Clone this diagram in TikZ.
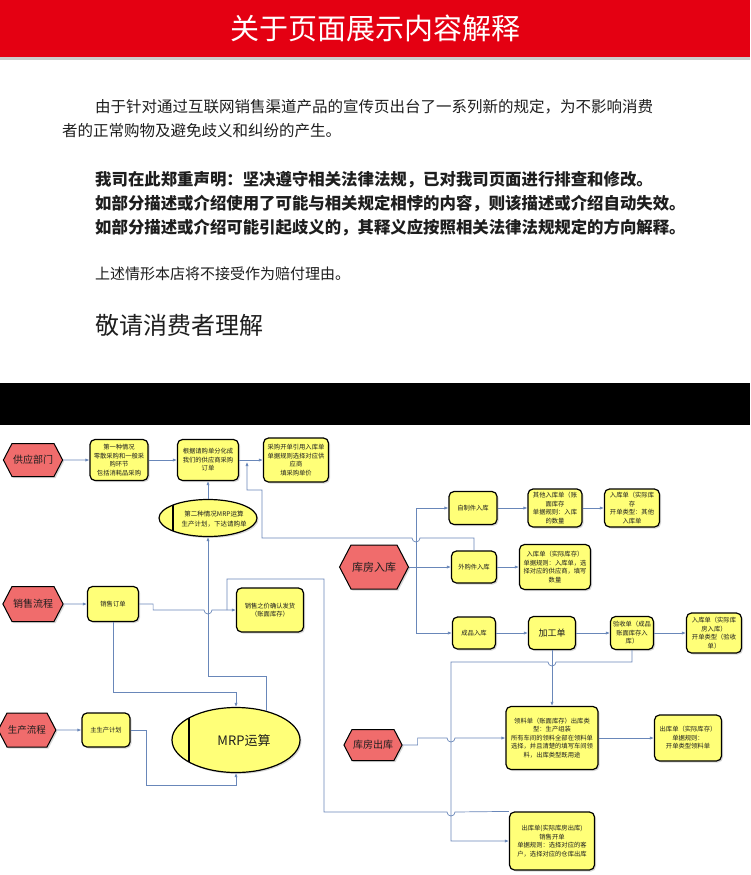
\documentclass[tikz,border=0pt]{standalone}
\usepackage{fontspec}
\setmainfont{Noto Sans CJK SC}
\usepackage{xcolor}
\usepackage{tikz}
\usetikzlibrary{arrows.meta,shapes.geometric,shapes.symbols,shadows,positioning,calc}

\definecolor{bannerred}{RGB}{228,0,18}
\definecolor{hexred}{RGB}{240,108,108}
\definecolor{boxyellow}{RGB}{255,255,120}
\definecolor{linkblue}{RGB}{105,135,185}
\definecolor{txtgrey}{RGB}{30,30,30}

\begin{document}
\begin{tikzpicture}[x=1pt,y=-1pt,
		conn/.style={draw=linkblue, line width=0.7pt},
		arr/.style={conn, -{Latex[length=4pt,width=3.2pt]}},
		ybox/.style={draw=black, line width=1.2pt, rounded corners=5pt, fill=boxyellow, align=center, inner sep=1pt,
			text=txtgrey, font=\fontsize{6.3}{8.5}\selectfont,
			drop shadow={shadow xshift=1.5pt, shadow yshift=-1.5pt, opacity=0.3}},
		hexa/.style={shape=signal, signal to=west and east, signal pointer angle=125, draw=black, line width=1pt,
			fill=hexred, inner sep=1pt, text=txtgrey, font=\fontsize{10}{12}\selectfont,
			drop shadow={shadow xshift=1.5pt, shadow yshift=-1.5pt, opacity=0.3}},
		oval/.style={ellipse, draw=black, line width=1.2pt, fill=boxyellow, inner sep=0pt,
			drop shadow={shadow xshift=1.5pt, shadow yshift=-1.5pt, opacity=0.3}},
		line1/.style={anchor=west, inner sep=0pt, text=txtgrey, font=\fontsize{15.5}{18}\selectfont},
		line2/.style={anchor=west, inner sep=0pt, text=txtgrey, font=\bfseries\fontsize{16.4}{19}\selectfont}
	]
		\useasboundingbox (0,0) rectangle (750,875);
		\fill[white] (0,0) rectangle (750,875);

		% statement
		\fill[bannerred] (0,0) rectangle (750,57);
		\fill[black!20] (0,57) rectangle (750,60);
		\node[text=white, font=\fontsize{29}{32}\selectfont] (title) at (375,28) {关于页面展示内容解释};

		\node[line1] (p1a) at (95,107) {由于针对通过互联网销售渠道产品的宣传页出台了一系列新的规定，为不影响消费};
		\node[line1] (p1b) at (62,131) {者的正常购物及避免歧义和纠纷的产生。};
		\node[line2] (p2a) at (95,180) {我司在此郑重声明：坚决遵守相关法律法规，已对我司页面进行排查和修改。};
		\node[line2] (p2b) at (95,204) {如部分描述或介绍使用了可能与相关规定相悖的内容，则该描述或介绍自动失效。};
		\node[line2] (p2c) at (95,228) {如部分描述或介绍可能引起歧义的，其释义应按照相关法律法规规定的方向解释。};
		\node[line1, font=\fontsize{15}{18}\selectfont] (p3) at (95,274) {上述情形本店将不接受作为赔付理由。};
		\node[line1, font=\fontsize{24}{28}\selectfont] (p4) at (95,325) {敬请消费者理解};

		\fill[black] (0,383) rectangle (750,425);

		% flow chart
		\node[hexa, minimum width=47pt, minimum height=33pt] (sup) at (33,460) {供应部门};
		\node[ybox, minimum width=58pt, minimum height=41pt] (case1) at (119,460) {第一种情况\\零散采购和一般采\\购环节\\包括消耗品采购};
		\node[ybox, minimum width=61pt, minimum height=41pt] (pord) at (208,460) {根据请购单分化成\\我们的供应商采购\\订单};
		\node[ybox, minimum width=65pt, minimum height=44pt] (pin) at (296,460) {采购开单引用入库单\\单据规则选择对应供\\应商\\填采购单价};
		\node[oval, minimum width=98pt, minimum height=37pt] (case2) at (208,518) {};
		\draw[line width=1.2pt] ($(case2.center)+(-35,-13)$) -- ($(case2.center)+(-35,13)$);
		\node[align=center, inner sep=0pt, text=txtgrey, font=\fontsize{6.5}{9.5}\selectfont] (case2txt) at (214,519) {第二种情况MRP运算\\生产计划，下达请购单};

		\node[hexa, minimum width=55pt, minimum height=44pt, font=\fontsize{11}{13}\selectfont] (whin) at (374,567) {库房入库};
		\node[ybox, minimum width=48pt, minimum height=33pt] (selfin) at (473,508) {自制件入库};
		\node[ybox, minimum width=54pt, minimum height=38pt] (othin) at (555,508) {其他入库单（账\\面库存\\单据规则：入库\\的数量};
		\node[ybox, minimum width=55pt, minimum height=38pt] (othin2) at (632,508) {入库单（实际库\\存\\开单类型：其他\\入库单};
		\node[ybox, minimum width=45pt, minimum height=32pt] (buyin) at (474,567) {外购件入库};
		\node[ybox, minimum width=71pt, minimum height=45pt] (buyin2) at (555,567) {入库单（实际库存）\\单据规则：入库单，选\\择对应的供应商，填写\\数量};

		\node[hexa, minimum width=47pt, minimum height=35pt] (sale) at (33,604) {销售流程};
		\node[ybox, minimum width=51pt, minimum height=35pt] (sord) at (113,604) {销售订单};
		\node[ybox, minimum width=67pt, minimum height=44pt] (ship) at (270,610) {销售之价确认发货\\（账面库存）};

		\node[ybox, minimum width=43pt, minimum height=32pt] (prodin) at (474,633) {成品入库};
		\node[ybox, minimum width=47pt, minimum height=33pt, font=\fontsize{9}{11}\selectfont] (work) at (552,633) {加工单};
		\node[ybox, minimum width=43pt, minimum height=33pt] (check) at (632,633) {验收单（成品\\账面库存入\\库）};
		\node[ybox, minimum width=55pt, minimum height=40pt] (chkin) at (714,633) {入库单（实际库\\房入库）\\开单类型（验收\\单）};

		\node[hexa, minimum width=47pt, minimum height=34pt, font=\fontsize{9.5}{11}\selectfont] (prod) at (27,730) {生产流程};
		\node[ybox, minimum width=48pt, minimum height=34pt] (mps) at (106,730) {主生产计划};
		\node[oval, minimum width=128pt, minimum height=65pt] (mrp) at (236,740) {};
		\draw[line width=1.2pt] ($(mrp.center)+(-47,-22)$) -- ($(mrp.center)+(-47,22)$);
		\node[inner sep=0pt, text=txtgrey, font=\fontsize{13}{15}\selectfont] (mrptxt) at (244,741) {MRP运算};

		\node[hexa, minimum width=48pt, minimum height=31pt] (whout) at (373,745) {库房出库};
		\node[ybox, minimum width=92pt, minimum height=63pt] (pick) at (552,738) {领料单（账面库存）出库类\\型：生产组装\\所有车间的领料全部在领料单\\选择，并且清楚的填写车间领\\料，出库类型既用途};
		\node[ybox, minimum width=67pt, minimum height=46pt] (pickout) at (688,738) {出库单（实际库存）\\单据规则：\\开单类型领料单};
		\node[ybox, minimum width=85pt, minimum height=58pt] (saleout) at (552,841) {出库单(实际库房出库)\\销售开单\\单据规则：选择对应的客\\户，选择对应的仓库出库};

		% connectors
		\draw[arr] (sup) -- (case1);
		\draw[arr] (case1) -- (pord);
		\draw[arr] (pord) -- (pin);
		\draw[arr] (case2.north) -- (pord.south);
		\coordinate (jn) at (247,462);
		\draw[arr] (buyin.north) |- (420,538) arc[start angle=0, end angle=180, radius=4] -- (262,538) |- (247,490) -- (jn);

		\coordinate (bus) at (416,567);
		\draw[conn] (whin.east) -- (bus);
		\draw[arr] (bus) |- (selfin.west);
		\draw[arr] (bus) -- (buyin.west);
		\draw[arr] (bus) |- (prodin.west);
		\draw[arr] (selfin) -- (othin);
		\draw[arr] (othin) -- (othin2);
		\draw[arr] (buyin) -- (buyin2);
		\draw[arr] (prodin) -- (work);
		\draw[arr] (work) -- (check);
		\draw[arr] (check) -- (chkin);

		\draw[arr] (sale) -- (sord);
		\draw[arr] (sord.east) -- ++(14,0) |- (204,610) arc[start angle=180, end angle=0, radius=4] -- (ship.west);
		\draw[arr] (sord.south) |- (236,692) -- (mrp.north);
		\draw[arr] (mrp.44) |- (208,676) -- (case2.south);
		\draw[arr] (prod) -- (mps);
		\draw[arr] (mps.east) -- ++(16,0) |- (236,785) -- (mrp.south);

		\coordinate (sotop) at (saleout.north west);
		\draw[conn] (227,610) |- (324,579) |- (447,812) arc[start angle=180, end angle=0, radius=4] -- (sotop);
		\draw[arr] (check.south) |- (556,662) arc[start angle=0, end angle=180, radius=4] -- (451,662) |- (saleout.west);
		\draw[arr] (work) -- (pick);
		\draw[arr] (whout.east) -- ++(15,0) |- (447,738) arc[start angle=180, end angle=0, radius=4] -- (pick.west);
		\draw[arr] (pick) -- (pickout);
	\end{tikzpicture}
\end{document}
